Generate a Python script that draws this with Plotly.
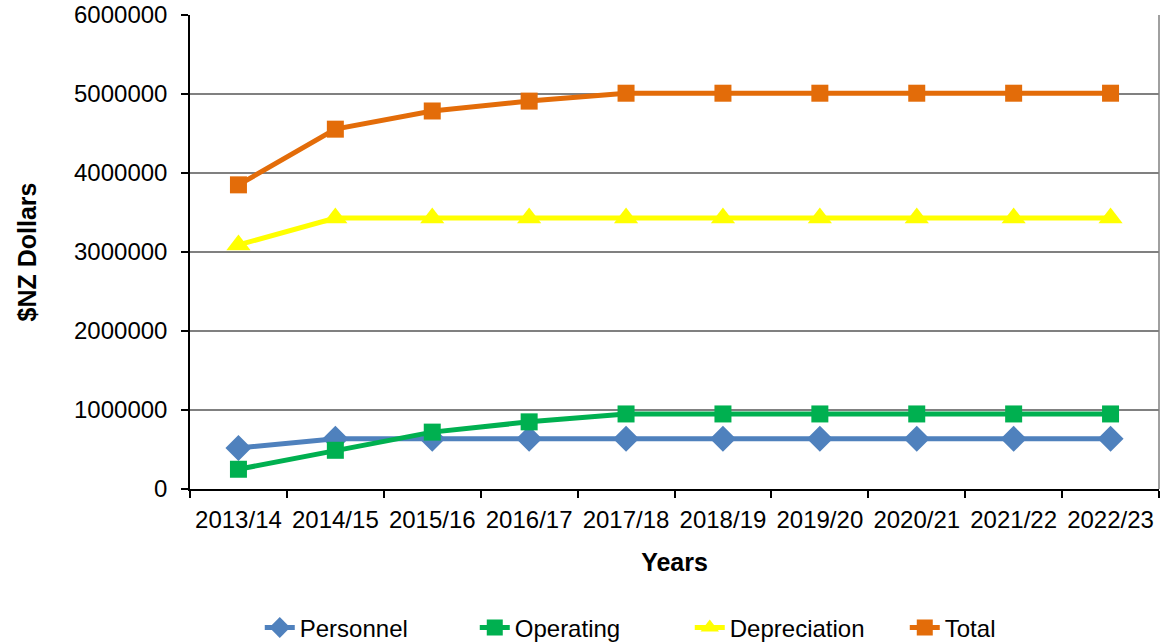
import plotly.graph_objects as go

years = ["2013/14", "2014/15", "2015/16", "2016/17", "2017/18",
         "2018/19", "2019/20", "2020/21", "2021/22", "2022/23"]
personnel = [520000, 635000, 635000, 635000, 635000, 635000, 635000, 635000, 635000, 635000]
operating = [250000, 490000, 720000, 850000, 950000, 950000, 950000, 950000, 950000, 950000]
depreciation = [3090000, 3430000, 3430000, 3430000, 3430000, 3430000, 3430000, 3430000, 3430000, 3430000]
total = [3850000, 4555000, 4785000, 4910000, 5010000, 5010000, 5010000, 5010000, 5010000, 5010000]
y_ticks = [0, 1000000, 2000000, 3000000, 4000000, 5000000, 6000000]

series = [
    ("Personnel", personnel, "#4F81BD", "diamond", 20),
    ("Operating", operating, "#00B050", "square", 17),
    ("Depreciation", depreciation, "#FFFF00", "triangle-up", 21),
    ("Total", total, "#E36C09", "square", 17),
]

fig = go.Figure()
for name, vals, color, sym, size in series:
    fig.add_trace(go.Scatter(
        x=years, y=vals, name=name, mode="lines+markers",
        line=dict(color=color, width=5),
        marker=dict(symbol=sym, size=size, color=color, line=dict(width=0)),
    ))

# gray frame on the right side of the plotting area
fig.add_shape(type="line", xref="paper", yref="paper", x0=1, x1=1, y0=0, y1=1,
              line=dict(color="#808080", width=1.5), layer="below")

font = "Liberation Sans, Arial, sans-serif"
fig.update_layout(
    width=1161, height=644,
    margin=dict(l=190, r=2, t=15, b=155, autoexpand=False),
    paper_bgcolor="white", plot_bgcolor="white",
    font=dict(family=font, size=24, color="black"),
    showlegend=True,
    legend=dict(orientation="h", x=0.072, xanchor="left", y=-0.293, yanchor="middle",
                font=dict(size=24), traceorder="normal", entrywidth=170),
    xaxis=dict(
        type="category", range=[-0.5, 9.5],
        showline=True, linecolor="black", linewidth=1.5,
        ticks="outside", ticklen=7, tickcolor="black", tickwidth=1.5,
        tickson="boundaries", showgrid=False,
        tickfont=dict(size=24), ticklabelstandoff=8,
        title=dict(text="<b>Years</b>", font=dict(size=25), standoff=22),
    ),
    yaxis=dict(
        range=[0, 6000000], tickvals=y_ticks, tickformat="d",
        showline=True, linecolor="black", linewidth=1.5,
        ticks="outside", ticklen=7, tickcolor="black", tickwidth=1.5,
        showgrid=True, gridcolor="#808080", gridwidth=1.5,
        zeroline=False,
        tickfont=dict(size=24), ticklabelstandoff=9,
        title=dict(text="<b>$NZ Dollars</b>", font=dict(size=25), standoff=30),
    ),
)

fig.write_html("out.html")
